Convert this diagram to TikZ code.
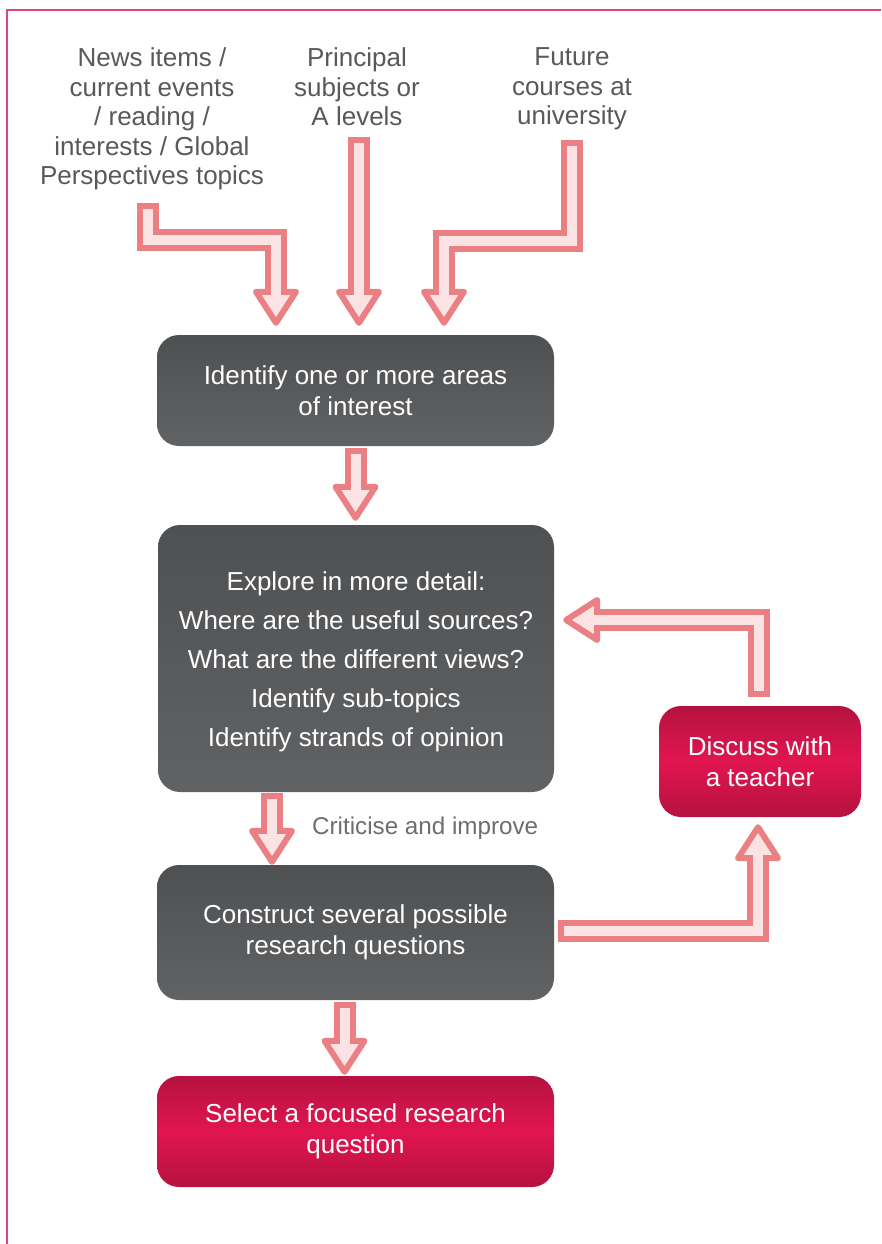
\documentclass[tikz,border=0pt]{standalone}
\usepackage{fontspec}
\setmainfont{Liberation Sans}
\usetikzlibrary{calc}
\definecolor{apink}{HTML}{EB8084}
\definecolor{alight}{HTML}{FBE3E3}
\definecolor{tgray}{HTML}{58595B}
\definecolor{cgray}{HTML}{6D6E71}
\definecolor{bgrayT}{HTML}{4F5052}
\definecolor{bgrayB}{HTML}{616264}
\definecolor{redE}{HTML}{B5123F}
\definecolor{redM}{HTML}{E1154F}
\definecolor{framec}{HTML}{E0457A}
\newcommand\hollowdown[2]{\draw[arrout] #1; \draw[arrhead] ([xshift=-20pt]#2) -- ([xshift=20pt]#2) -- ([yshift=-31pt]#2) -- cycle; \draw[arrin] #1;}
\newcommand\hollowup[2]{\draw[arrout] #1; \draw[arrhead] ([xshift=-20pt]#2) -- ([xshift=20pt]#2) -- ([yshift=31pt]#2) -- cycle; \draw[arrin] #1;}
\newcommand\hollowleft[2]{\draw[arrout] #1; \draw[arrhead] ([yshift=-20pt]#2) -- ([yshift=20pt]#2) -- ([xshift=-31pt]#2) -- cycle; \draw[arrin] #1;}
\begin{document}
\begin{tikzpicture}[x=1pt,y=-1pt,
 arrout/.style={draw=apink, line width=22pt, line cap=rect},
 arrin/.style={draw=alight, line width=10pt, line cap=rect},
 arrhead/.style={fill=alight, draw=apink, line width=6pt, line join=round},
 box/.style={rounded corners=22pt, minimum width=397pt, text=white, align=center, font=\fontsize{26}{31}\selectfont, inner sep=0pt},
 graybox/.style={box, top color=bgrayT, bottom color=bgrayB},
 redbox/.style={box, top color=redE, bottom color=redE, middle color=redM},
 toptext/.style={text=tgray, align=center, anchor=north, font=\fontsize{26}{29.5}\selectfont, inner sep=0pt}
]
\useasboundingbox (0,0) rectangle (881,1244);
\fill[white] (0,0) rectangle (881,1244);
\draw[framec, line width=1.5pt] (7,1244) -- (7,10) -- (881,10);

\node[toptext] (t1) at (152,47.5) {News items /\\current events\\/ reading /\\interests / Global\\Perspectives topics};
\node[toptext] (t2) at (357,47.5) {Principal\\subjects or\\A levels};
\node[toptext] (t3) at (572,47.5) {Future\\courses at\\university};

\node[graybox, minimum height=111pt] (b1) at (355.5,390.5) {Identify one or more areas\\of interest};
\node[graybox, minimum width=396pt, minimum height=267pt, font=\fontsize{26}{39}\selectfont] (b2) at (356,658.5) {\rule{0pt}{25pt}Explore in more detail:\\Where are the useful sources?\\What are the different views?\\Identify sub-topics\\Identify strands of opinion};
\node[graybox, minimum height=135pt] (b3) at (355.5,932.5) {Construct several possible\\research questions};
\node[redbox, minimum height=111pt] (b4) at (355.5,1131.5) {Select a focused research\\question};
\node[redbox, minimum width=202pt, minimum height=111pt] (d) at (760,761.5) {Discuss with\\a teacher};
\node[anchor=west, inner sep=0pt, text=cgray, font=\fontsize{24.2}{29}\selectfont] (crit) at (312,828.5) {Criticise and improve};

\coordinate (a1t) at (148,214);
\coordinate (a1b) at ($(b1.north)+(-79.5,-43)$);
\coordinate (a2t) at (359,148);
\coordinate (a2b) at ($(b1.north)+(3.5,-43)$);
\coordinate (a3t) at (571.5,151);
\coordinate (a3b) at ($(b1.north)+(88.5,-43)$);
\coordinate (a4t) at ($(b1.south)+(0,13)$);
\coordinate (a4b) at (a4t |- {$(b2.north)+(0,-38)$});
\coordinate (a5t) at ($(b2.south)+(-84,12)$);
\coordinate (a5b) at (a5t |- {$(b3.north)+(0,-34)$});
\coordinate (a6t) at ($(b3.south)+(-11,13)$);
\coordinate (a6b) at (a6t |- {$(b4.north)+(0,-35)$});
\coordinate (a7t) at ($(b3.east)+(15,-1.5)$);
\coordinate (a7b) at ($(d.south)+(-2,41)$);
\coordinate (a8t) at ($(d.north)+(-1,-20)$);
\coordinate (a8b) at ($(b2.east)+(43,-38.5)$);

\hollowdown{(a1t) |- ($(a1b)+(0,-52)$) -- (a1b)}{a1b}
\hollowdown{(a2t) -- (a2b)}{a2b}
\hollowdown{(a3t) |- ($(a3b)+(0,-51)$) -- (a3b)}{a3b}
\hollowdown{(a4t) -- (a4b)}{a4b}
\hollowdown{(a5t) -- (a5b)}{a5b}
\hollowdown{(a6t) -- (a6b)}{a6b}
\hollowup{(a7t) -| (a7b)}{a7b}
\hollowleft{(a8t) |- (a8b)}{a8b}
\end{tikzpicture}
\end{document}
